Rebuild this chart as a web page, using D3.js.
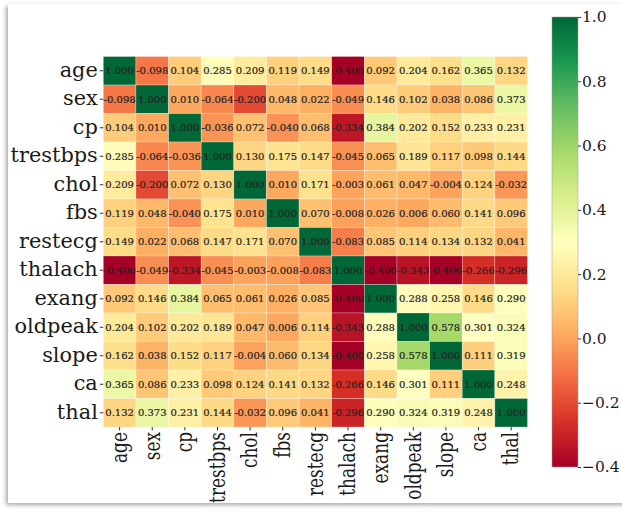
<!DOCTYPE html>
<html>
<head>
<meta charset="utf-8">
<script src="https://cdn.jsdelivr.net/npm/d3@7"></script>
<style>
  html, body { margin: 0; padding: 0; background: #ffffff; }
  svg { display: block; }
  text { font-family: "DejaVu Serif", serif; fill: #1a1a1a; }
</style>
</head>
<body>
<svg id="chart" width="622" height="515"></svg>
<script>
// Feature names (rows and columns of the correlation matrix)
const features = ["age","sex","cp","trestbps","chol","fbs","restecg","thalach","exang","oldpeak","slope","ca","thal"];

// Pearson correlations, one row per feature
const rowAge      = [ 1.000,-0.098, 0.104, 0.285, 0.209, 0.119, 0.149,-0.400, 0.092, 0.204, 0.162, 0.365, 0.132];
const rowSex      = [-0.098, 1.000, 0.010,-0.064,-0.200, 0.048, 0.022,-0.049, 0.146, 0.102, 0.038, 0.086, 0.373];
const rowCp       = [ 0.104, 0.010, 1.000,-0.036, 0.072,-0.040, 0.068,-0.334, 0.384, 0.202, 0.152, 0.233, 0.231];
const rowTrestbps = [ 0.285,-0.064,-0.036, 1.000, 0.130, 0.175, 0.147,-0.045, 0.065, 0.189, 0.117, 0.098, 0.144];
const rowChol     = [ 0.209,-0.200, 0.072, 0.130, 1.000, 0.010, 0.171,-0.003, 0.061, 0.047,-0.004, 0.124,-0.032];
const rowFbs      = [ 0.119, 0.048,-0.040, 0.175, 0.010, 1.000, 0.070,-0.008, 0.026, 0.006, 0.060, 0.141, 0.096];
const rowRestecg  = [ 0.149, 0.022, 0.068, 0.147, 0.171, 0.070, 1.000,-0.083, 0.085, 0.114, 0.134, 0.132, 0.041];
const rowThalach  = [-0.400,-0.049,-0.334,-0.045,-0.003,-0.008,-0.083, 1.000,-0.400,-0.343,-0.400,-0.266,-0.296];
const rowExang    = [ 0.092, 0.146, 0.384, 0.065, 0.061, 0.026, 0.085,-0.400, 1.000, 0.288, 0.258, 0.146, 0.290];
const rowOldpeak  = [ 0.204, 0.102, 0.202, 0.189, 0.047, 0.006, 0.114,-0.343, 0.288, 1.000, 0.578, 0.301, 0.324];
const rowSlope    = [ 0.162, 0.038, 0.152, 0.117,-0.004, 0.060, 0.134,-0.400, 0.258, 0.578, 1.000, 0.111, 0.319];
const rowCa       = [ 0.365, 0.086, 0.233, 0.098, 0.124, 0.141, 0.132,-0.266, 0.146, 0.301, 0.111, 1.000, 0.248];
const rowThal     = [ 0.132, 0.373, 0.231, 0.144,-0.032, 0.096, 0.041,-0.296, 0.290, 0.324, 0.319, 0.248, 1.000];

const corr = [rowAge,rowSex,rowCp,rowTrestbps,rowChol,rowFbs,rowRestecg,rowThalach,rowExang,rowOldpeak,rowSlope,rowCa,rowThal];

// Colour bar range and ticks
const colorDomain = [-0.4, 1.0];
const colorTicks = [-0.4, -0.2, 0.0, 0.2, 0.4, 0.6, 0.8, 1.0];

// RdYlGn, piecewise-linear through the 11 ColorBrewer stops
const rdylgn = ["#a50026","#d73027","#f46d43","#fdae61","#fee08b","#ffffbf","#d9ef8b","#a6d96a","#66bd63","#1a9850","#006837"];
const stops = rdylgn.map((_, i) => colorDomain[0] + (colorDomain[1] - colorDomain[0]) * i / (rdylgn.length - 1));
const color = d3.scaleLinear().domain(stops).range(rdylgn).interpolate(d3.interpolateRgb).clamp(true);

(function draw() {
  const svg = d3.select("#chart");

  // Card background with a soft shadow on the left and bottom
  const defs = svg.append("defs");
  const sh = defs.append("filter").attr("id", "cardShadow")
    .attr("x", "-5%").attr("y", "-5%").attr("width", "110%").attr("height", "110%");
  sh.append("feDropShadow").attr("dx", -2).attr("dy", 2).attr("stdDeviation", 2)
    .attr("flood-color", "#000").attr("flood-opacity", 0.35);
  svg.append("rect").attr("x", 8).attr("y", 4).attr("width", 640).attr("height", 499)
    .attr("fill", "#ffffff").attr("filter", "url(#cardShadow)");

  // Heatmap geometry
  const gLeft = 103.3, gRight = 527.5, gTop = 56.5, gBottom = 427;
  const x = d3.scaleBand().domain(features).range([gLeft, gRight]).padding(0);
  const y = d3.scaleBand().domain(features).range([gTop, gBottom]).padding(0);

  const cells = [];
  corr.forEach((row, i) => row.forEach((v, j) => cells.push({ r: features[i], c: features[j], v })));

  const g = svg.append("g");
  g.selectAll("rect.cell").data(cells).join("rect")
    .attr("class", "cell")
    .attr("x", d => x(d.c)).attr("y", d => y(d.r))
    .attr("width", x.bandwidth()).attr("height", y.bandwidth())
    .attr("fill", d => color(d.v))
    .attr("stroke", "rgba(255,255,255,0.45)").attr("stroke-width", 0.6);

  g.selectAll("text.val").data(cells).join("text")
    .attr("class", "val")
    .attr("x", d => x(d.c) + x.bandwidth() / 2)
    .attr("y", d => y(d.r) + y.bandwidth() / 2)
    .attr("text-anchor", "middle").attr("dominant-baseline", "central")
    .attr("font-size", "10px").style("fill", "#222")
    .style("stroke", "#222").style("stroke-width", "0.2px")
    .text(d => d3.format(".3f")(d.v).replace("\u2212", "-"));

  // Row axis (left), labels slightly widened
  const yAxis = svg.append("g").attr("transform", `translate(${gLeft},0)`)
    .call(d3.axisLeft(y).tickSize(3.5).tickPadding(2));
  yAxis.select(".domain").remove();
  yAxis.selectAll(".tick line").attr("stroke", "#333");
  yAxis.selectAll(".tick text")
    .attr("font-size", "19.5px").attr("font-family", "DejaVu Serif, serif").style("fill", "#1a1a1a")
    .attr("x", null)
    .attr("transform", "translate(-5.5,0) scale(1.07,1)");

  // Column axis (bottom), labels rotated and shortened along their length
  const xAxis = svg.append("g").attr("transform", `translate(0,${gBottom})`)
    .call(d3.axisBottom(x).tickSize(3.5).tickPadding(2));
  xAxis.select(".domain").remove();
  xAxis.selectAll(".tick line").attr("stroke", "#333");
  xAxis.selectAll(".tick text")
    .attr("font-size", "19.5px").attr("font-family", "DejaVu Serif, serif").style("fill", "#1a1a1a")
    .attr("transform", "translate(0,5) rotate(-90) scale(0.87,1.12)")
    .attr("text-anchor", "end").attr("dominant-baseline", "central")
    .attr("x", 0).attr("y", 0).attr("dy", null);

  // Colour bar
  const cbX = 552, cbW = 26, cbTop = 17, cbBottom = 467;
  const cy = d3.scaleLinear().domain(colorDomain).range([cbBottom, cbTop]);
  const grad = defs.append("linearGradient").attr("id", "cbGrad")
    .attr("x1", 0).attr("y1", 1).attr("x2", 0).attr("y2", 0);
  stops.forEach((s, i) => grad.append("stop")
    .attr("offset", (s - colorDomain[0]) / (colorDomain[1] - colorDomain[0]))
    .attr("stop-color", rdylgn[i]));
  svg.append("rect").attr("x", cbX).attr("y", cbTop).attr("width", cbW).attr("height", cbBottom - cbTop)
    .attr("fill", "url(#cbGrad)").attr("stroke", "#999").attr("stroke-width", 0.5);

  const cAxis = svg.append("g").attr("transform", `translate(${cbX + cbW},0)`)
    .call(d3.axisRight(cy).tickValues(colorTicks).tickSize(3).tickPadding(1)
      .tickFormat(d => d3.format(".1f")(d)));
  cAxis.select(".domain").remove();
  cAxis.selectAll(".tick line").attr("stroke", "#333");
  cAxis.selectAll(".tick text").attr("font-size", "15.5px").attr("font-family", "DejaVu Serif, serif").style("fill", "#1a1a1a");
})();
</script>
</body>
</html>
